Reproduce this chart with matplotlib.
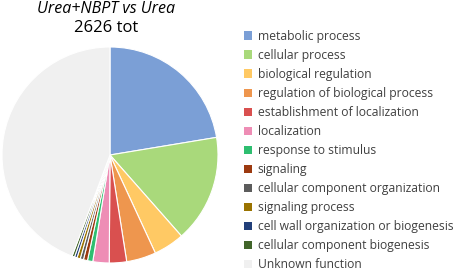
import matplotlib.pyplot as plt
from matplotlib.patches import Patch

plt.rcParams['font.family'] = ['Open Sans', 'DejaVu Sans']

# ── data ──
categories = ['metabolic process', 'cellular process', 'biological regulation',
              'regulation of biological process', 'establishment of localization',
              'localization', 'response to stimulus', 'signaling',
              'cellular component organization', 'signaling process',
              'cell wall organization or biogenesis', 'cellular component biogenesis',
              'Unknown function']
counts = [588, 423, 121, 116, 68, 64, 21, 16, 13, 13, 10, 10, 1163]
colors = ['#7B9FD6', '#A9D97B', '#FFC964', '#EE964E', '#D9504F', '#EE8DB5',
          '#2EBE70', '#9C3A10', '#5C5C5C', '#9A7300', '#223F7A', '#41652A', '#F0F0F0']

fig = plt.figure(figsize=(4.54, 2.73), dpi=100)
W, H = 454, 273
cx, cy, r = 110, 155, 108
ax = fig.add_axes([(cx - r) / W, (H - cy - r) / H, 2 * r / W, 2 * r / H])
ax.pie(counts, colors=colors, startangle=90, counterclock=False,
       wedgeprops=dict(edgecolor='white', linewidth=0.8))
ax.set_xlim(-1, 1)
ax.set_ylim(-1, 1)
ax.set_aspect('equal')

fig.text(106 / W, 1 - 9 / H, 'Urea+NBPT vs Urea', ha='center', va='center',
         fontsize=11.5, style='italic')
fig.text(106 / W, 1 - 28 / H, '2626 tot', ha='center', va='center', fontsize=12)

handles = [Patch(facecolor=c, edgecolor='none') for c in colors]
leg = fig.legend(handles, categories, loc='upper left',
                 bbox_to_anchor=(239 / W, 1 - 25 / H), frameon=False,
                 fontsize=8.7, handlelength=0.7, handleheight=0.7,
                 handletextpad=0.45, labelspacing=0.5, borderaxespad=0)
for t in leg.get_texts():
    t.set_color('#404040')

fig.savefig('out.png', dpi=100, facecolor='white')
